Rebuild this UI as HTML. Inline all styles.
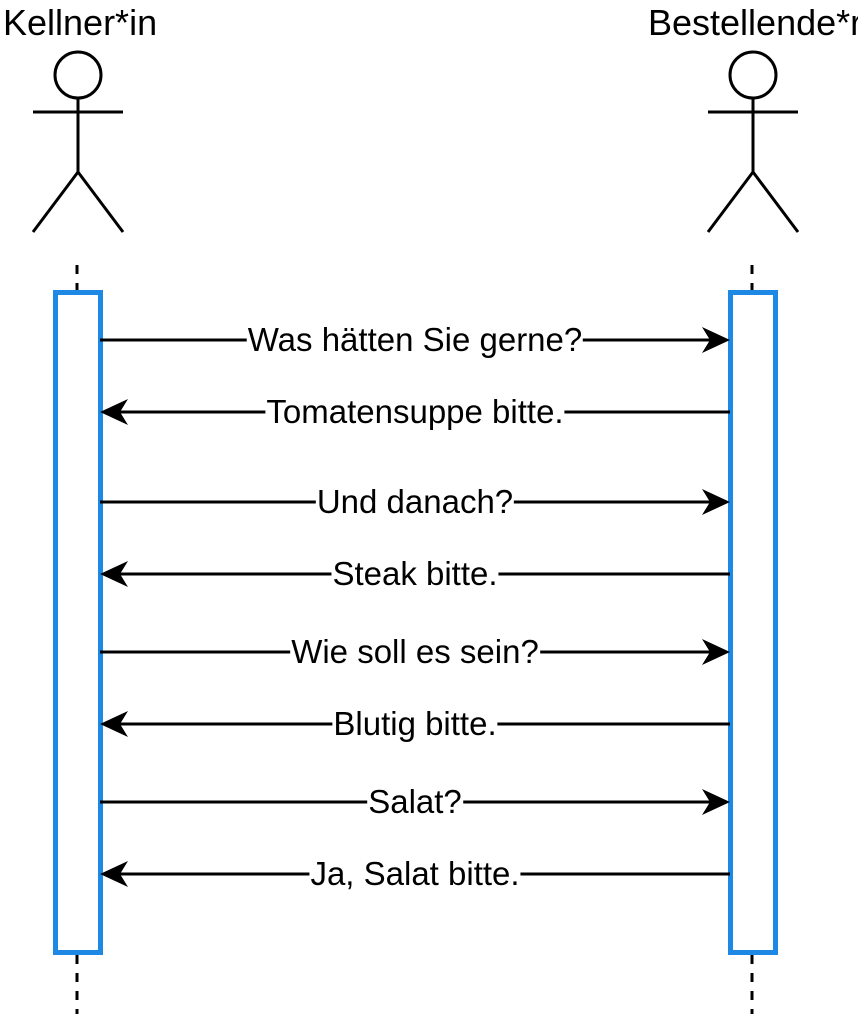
<!DOCTYPE html>
<html><head><meta charset="utf-8"><style>
html,body{margin:0;padding:0;background:#fff;}
body{width:858px;height:1014px;overflow:hidden;position:relative;font-family:"Liberation Sans",sans-serif;}
.t{position:absolute;white-space:nowrap;color:#000;}
.lbl{position:absolute;white-space:nowrap;font-size:33px;background:#fff;transform:translate(-50%,-50%);line-height:36px;padding:0 1px;}
</style></head><body>
<svg id="svg" width="858" height="1014" style="position:absolute;left:0;top:0">
<g stroke="#000" stroke-width="3" fill="#fff">
<circle cx="78" cy="75" r="23"/><line x1="78" y1="98" x2="78" y2="172"/><line x1="33" y1="112" x2="123" y2="112"/><line x1="78" y1="172" x2="33" y2="232"/><line x1="78" y1="172" x2="123" y2="232"/>
</g>
<g stroke="#000" stroke-width="3" fill="#fff">
<circle cx="753" cy="75" r="23"/><line x1="753" y1="98" x2="753" y2="172"/><line x1="708" y1="112" x2="798" y2="112"/><line x1="753" y1="172" x2="708" y2="232"/><line x1="753" y1="172" x2="798" y2="232"/>
</g>
<g stroke="#000" stroke-width="3" stroke-dasharray="9,9">
<line x1="77" y1="265" x2="77" y2="292"/><line x1="77" y1="955" x2="77" y2="1014"/>
<line x1="752" y1="265" x2="752" y2="292"/><line x1="752" y1="955" x2="752" y2="1014"/>
</g>
<rect x="55.5" y="292.5" width="45" height="660" fill="#fff" stroke="#1e88e5" stroke-width="5"/>
<rect x="730.5" y="292.5" width="45" height="660" fill="#fff" stroke="#1e88e5" stroke-width="5"/>
<g id="msgs"></g>
</svg>
<div class="t" style="left:3px;top:3px;font-size:36px;line-height:40px">Kellner*in</div>
<div class="t" style="left:648px;top:3px;font-size:36px;line-height:40px">Bestellende*r</div>
<script>
const messages=["Was hätten Sie gerne?","Tomatensuppe bitte.","Und danach?","Steak bitte.","Wie soll es sein?","Blutig bitte.","Salat?","Ja, Salat bitte."];
const directions=["right","left","right","left","right","left","right","left"];
const msgY=[340,412,502,574,652,724,802,874];
const g=document.getElementById('msgs');
const NS='http://www.w3.org/2000/svg';
const xL=100,xR=730,cx=415;
messages.forEach((m,i)=>{
  const y=msgY[i];const right=directions[i]==='right';
  const tip=right?xR:xL;const s=right?-1:1;
  const ln=document.createElementNS(NS,'line');
  
  
  ln.setAttribute('x1',right?xL:xR);ln.setAttribute('x2',tip+s*20);
  ln.setAttribute('y1',y);ln.setAttribute('y2',y);
  ln.setAttribute('stroke','#000');ln.setAttribute('stroke-width','3');
  g.appendChild(ln);
  const p=document.createElementNS(NS,'path');
  
  
  p.setAttribute('d',`M${tip},${y} L${tip+s*28},${y-13} L${tip+s*20},${y} L${tip+s*28},${y+13} Z`);
  p.setAttribute('fill','#000');
  g.appendChild(p);
  const d=document.createElement('div');
  d.className='lbl';
  
  
  d.style.left=cx+'px';d.style.top=y+'px';d.textContent=m;
  document.body.appendChild(d);
});
</script>
</body></html>
